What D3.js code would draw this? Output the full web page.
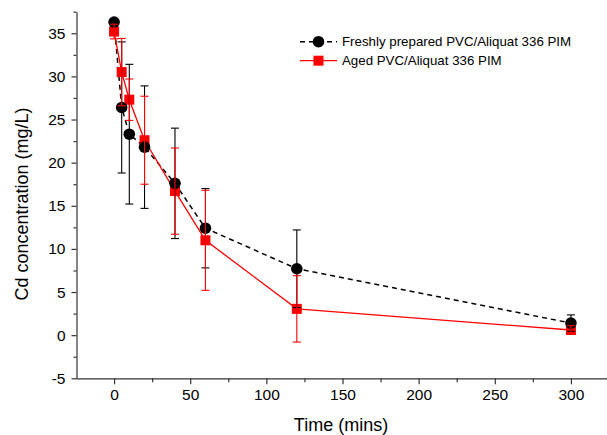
<!DOCTYPE html>
<html>
<head>
<meta charset="utf-8">
<script src="https://cdn.jsdelivr.net/npm/d3@7"></script>
<style>
  body { margin: 0; background: #fff; }
  svg { font-family: "Liberation Sans", Arial, sans-serif; }
</style>
</head>
<body>
<svg id="chart" width="607" height="435"></svg>
<script>
// time points (mins)
const times = [0, 5, 10, 20, 40, 60, 120, 300];

// Freshly prepared PIM
const freshValues = [36.3, 26.4, 23.3, 21.8, 17.6, 12.4, 7.7, 1.4];
const freshErrors = [0.3, 7.6, 8.1, 7.1, 6.4, 4.6, 4.5, 0.95];

// Aged PIM
const agedValues = [35.2, 30.5, 27.3, 22.6, 16.7, 11.0, 3.05, 0.6];
const agedErrors = [0.85, 3.9, 2.4, 5.1, 5.0, 5.8, 3.85, 0.5];

const xTicks = [0, 50, 100, 150, 200, 250, 300];
const xMinorTicks = [25, 75, 125, 175, 225, 275, 325];
const yTicks = [-5, 0, 5, 10, 15, 20, 25, 30, 35];
const yMinorTicks = [-2.5, 2.5, 7.5, 12.5, 17.5, 22.5, 27.5, 32.5, 37.5];

const seriesNames = ["Freshly prepared PVC/Aliquat 336 PIM", "Aged PVC/Aliquat 336 PIM"];

const svg = d3.select("#chart");

const x = d3.scaleLinear().domain([-25, 325]).range([76, 609]);
const y = d3.scaleLinear().domain([-5, 37.5]).range([378.3, 11.7]);

const fresh = times.map((t, i) => ({ t: t, v: freshValues[i], e: freshErrors[i] }));
const aged = times.map((t, i) => ({ t: t, v: agedValues[i], e: agedErrors[i] }));

// axes (plain hyphen for negative numbers, like the original)
const plain = d => String(d);

svg.append("g")
    .attr("transform", "translate(0,378.3)")
    .call(d3.axisBottom(x).tickValues(xTicks).tickSize(6).tickSizeOuter(0).tickPadding(5).tickFormat(plain));
svg.append("g")
    .attr("transform", "translate(0,378.3)")
    .call(d3.axisBottom(x).tickValues(xMinorTicks).tickSize(4).tickFormat(""))
    .call(g => g.select(".domain").remove());

svg.append("g")
    .attr("transform", "translate(76.5,0)")
    .call(d3.axisLeft(y).tickValues(yTicks).tickSize(5).tickSizeOuter(0).tickPadding(6).tickFormat(plain));
svg.append("g")
    .attr("transform", "translate(76.5,0)")
    .call(d3.axisLeft(y).tickValues(yMinorTicks).tickSize(3).tickFormat(""))
    .call(g => g.select(".domain").remove());

svg.selectAll(".domain, .tick line").attr("stroke", "#333").attr("stroke-width", 1.2);
svg.selectAll(".tick text").attr("font-size", 15.5).attr("fill", "#000")
    .attr("font-family", "'Liberation Sans', Arial, sans-serif");

// axis titles
svg.append("text")
    .attr("x", 341).attr("y", 431)
    .attr("text-anchor", "middle")
    .attr("font-size", 18)
    .text("Time (mins)");

svg.append("text")
    .attr("transform", "translate(28,204) rotate(-90)")
    .attr("text-anchor", "middle")
    .attr("font-size", 18)
    .text("Cd concentration (mg/L)");

// lines
const line = d3.line().x(d => x(d.t)).y(d => y(d.v));

svg.append("path").datum(fresh)
    .attr("d", line)
    .attr("fill", "none")
    .attr("stroke", "#000")
    .attr("stroke-width", 1.5)
    .attr("stroke-dasharray", "5,4");

svg.append("path").datum(aged)
    .attr("d", line)
    .attr("fill", "none")
    .attr("stroke", "#ff0000")
    .attr("stroke-width", 1.3);

// markers
svg.append("g").selectAll("rect").data(aged).join("rect")
    .attr("x", d => x(d.t) - 5)
    .attr("y", d => y(d.v) - 5)
    .attr("width", 10).attr("height", 10)
    .attr("fill", "#ff0000");

svg.append("g").selectAll("circle").data(fresh).join("circle")
    .attr("cx", d => x(d.t))
    .attr("cy", d => y(d.v))
    .attr("r", 5.8)
    .attr("fill", "#000");

// error bars
function errorBars(data, color) {
    const g = svg.append("g").attr("stroke", color).attr("stroke-width", 1.1);
    data.forEach(d => {
        const cx = x(d.t);
        const top = y(d.v + d.e);
        const bot = y(d.v - d.e);
        g.append("line").attr("x1", cx).attr("x2", cx).attr("y1", top).attr("y2", bot);
        g.append("line").attr("x1", cx - 4).attr("x2", cx + 4).attr("y1", top).attr("y2", top);
        g.append("line").attr("x1", cx - 4).attr("x2", cx + 4).attr("y1", bot).attr("y2", bot);
    });
}
errorBars(fresh, "#000");
errorBars(aged, "#ff0000");

// legend
const legend = svg.append("g");
const rows = [
    { name: seriesNames[0], color: "#000", dash: "5,4", y: 41.7 },
    { name: seriesNames[1], color: "#ff0000", dash: null, y: 60.7 }
];
rows.forEach((r, i) => {
    legend.append("line")
        .attr("x1", 300).attr("x2", 337)
        .attr("y1", r.y).attr("y2", r.y)
        .attr("stroke", r.color)
        .attr("stroke-width", i === 0 ? 1.5 : 1.3)
        .attr("stroke-dasharray", r.dash);
    if (i === 0) {
        legend.append("circle").attr("cx", 318.5).attr("cy", r.y).attr("r", 5.8).attr("fill", r.color);
    } else {
        legend.append("rect").attr("x", 313.5).attr("y", r.y - 5).attr("width", 10).attr("height", 10).attr("fill", r.color);
    }
    legend.append("text")
        .attr("x", 342).attr("y", r.y + 4.6)
        .attr("font-size", 13.3)
        .text(r.name);
});
</script>
</body>
</html>
